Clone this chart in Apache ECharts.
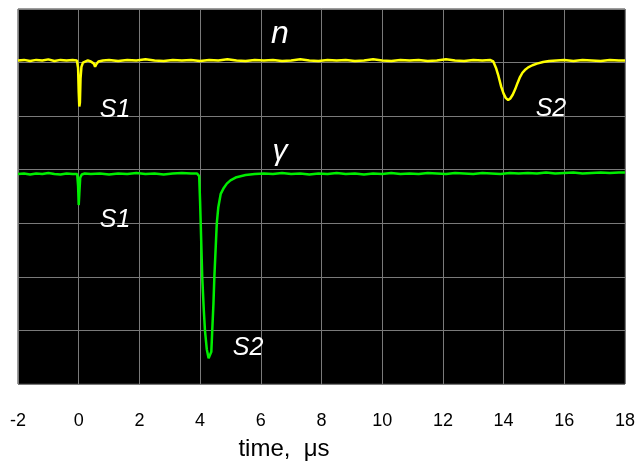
<!DOCTYPE html>
<html>
<head>
<meta charset="utf-8">
<script src="https://cdn.jsdelivr.net/npm/echarts@6/dist/echarts.min.js"></script>
<style>html,body{margin:0;padding:0;background:#fff;}#c{width:639px;height:466px;}</style>
</head>
<body>
<div id="c"></div>
<script>
// x ticks (time, µs)
const xTicks = [-2, 0, 2, 4, 6, 8, 10, 12, 14, 16, 18];

// neutron trace (n) : [time µs, level in divisions]
const nTrace = [
  [-2.0,6.04],[-1.8,6.05],[-1.6,6.03],[-1.4,6.05],[-1.2,6.04],[-1.0,6.06],[-0.8,6.03],[-0.6,6.05],[-0.4,6.04],[-0.2,6.05],[-0.06,6.04],
  [-0.02,5.9],[0.0,5.45],[0.02,5.18],[0.04,5.25],[0.06,5.7],[0.09,5.92],[0.14,6.0],[0.2,6.03],[0.3,6.04],[0.4,6.02],
  [0.5,5.98],[0.54,5.92],[0.58,5.97],[0.65,6.02],[0.8,6.04],[1.0,6.05],[1.3,6.03],[1.6,6.05],[1.9,6.04],[2.2,6.06],
  [2.5,6.04],[2.8,6.03],[3.1,6.05],[3.4,6.04],[3.7,6.05],[4.0,6.03],[4.3,6.05],[4.6,6.04],[4.9,6.06],[5.2,6.04],
  [5.5,6.03],[5.8,6.05],[6.1,6.04],[6.4,6.05],[6.7,6.03],[7.0,6.04],[7.3,6.06],[7.6,6.04],[7.9,6.03],[8.2,6.05],
  [8.5,6.04],[8.8,6.05],[9.1,6.03],[9.4,6.04],[9.7,6.06],[10.0,6.04],[10.3,6.03],[10.6,6.05],[10.9,6.04],[11.2,6.05],
  [11.5,6.03],[11.8,6.04],[12.1,6.06],[12.4,6.04],[12.7,6.03],[13.0,6.05],[13.3,6.04],[13.55,6.05],[13.66,6.02],
  [13.75,5.9],[13.83,5.75],[13.92,5.55],[14.0,5.42],[14.07,5.34],[14.15,5.30],[14.22,5.33],[14.3,5.40],[14.38,5.50],
  [14.46,5.62],[14.54,5.73],[14.62,5.81],[14.7,5.86],[14.81,5.91],[14.95,5.95],[15.1,5.98],[15.3,6.01],[15.5,6.03],
  [15.75,6.04],[16.0,6.05],[16.3,6.03],[16.6,6.05],[16.9,6.04],[17.2,6.03],[17.5,6.05],[17.8,6.04],[18.0,6.04]
];

// gamma trace (γ)
const gTrace = [
  [-2.0,3.92],[-1.8,3.93],[-1.6,3.91],[-1.4,3.93],[-1.2,3.92],[-1.0,3.94],[-0.8,3.92],[-0.6,3.91],[-0.4,3.93],[-0.2,3.92],[-0.05,3.92],
  [-0.02,3.7],[0.0,3.34],[0.02,3.55],[0.05,3.85],[0.1,3.91],[0.2,3.93],[0.4,3.92],[0.7,3.93],[1.0,3.91],[1.3,3.93],
  [1.6,3.92],[1.9,3.94],[2.2,3.92],[2.5,3.93],[2.8,3.91],[3.1,3.93],[3.4,3.94],[3.7,3.93],[3.9,3.93],[3.97,3.88],
  [4.0,3.4],[4.02,3.0],[4.07,2.0],[4.12,1.4],[4.16,1.0],[4.22,0.65],[4.28,0.48],[4.33,0.45],[4.37,0.6],[4.40,1.0],
  [4.44,1.5],[4.47,2.0],[4.51,2.5],[4.55,3.0],[4.6,3.3],[4.68,3.55],[4.78,3.66],[4.88,3.74],[5.0,3.8],[5.2,3.86],
  [5.5,3.9],[5.8,3.92],[6.1,3.93],[6.4,3.92],[6.7,3.94],[7.0,3.92],[7.3,3.93],[7.6,3.91],[7.9,3.93],[8.2,3.92],
  [8.5,3.94],[8.8,3.92],[9.1,3.93],[9.4,3.91],[9.7,3.93],[10.0,3.92],[10.3,3.94],[10.6,3.92],[10.9,3.93],[11.2,3.92],
  [11.5,3.94],[11.8,3.93],[12.1,3.92],[12.4,3.94],[12.7,3.93],[13.0,3.92],[13.3,3.94],[13.6,3.93],[13.9,3.92],[14.2,3.94],
  [14.5,3.93],[14.8,3.94],[15.1,3.93],[15.4,3.95],[15.7,3.93],[16.0,3.94],[16.3,3.95],[16.6,3.93],[16.9,3.94],[17.2,3.95],
  [17.5,3.94],[17.8,3.95],[18.0,3.95]
];

// annotation labels: [time, level, text, fontSize]
const notes = [
  [6.63, 6.53, 'n', 32],
  [6.63, 4.33, 'γ', 30],
  [1.20, 5.11, 'S1', 25],
  [1.20, 3.06, 'S1', 25],
  [15.56, 5.13, 'S2', 25],
  [5.58, 0.67, 'S2', 25]
];

const chart = echarts.init(document.getElementById('c'));
const FONT = '"Liberation Sans", Arial, sans-serif';
chart.setOption({
  animation: false,
  backgroundColor: '#ffffff',
  grid: {left: 18, right: 14, top: 9, bottom: 82, show: true, backgroundColor: '#000000', borderColor: '#3a3a3a', borderWidth: 1},
  xAxis: {
    type: 'value', min: xTicks[0], max: xTicks[xTicks.length - 1], interval: 2,
    axisLine: {show: false}, axisTick: {show: false},
    axisLabel: {color: '#000', fontSize: 18, fontFamily: FONT, margin: 28, showMinLabel: true, showMaxLabel: true},
    splitLine: {show: true, lineStyle: {color: '#7a7a7a', width: 1}},
    name: 'time,  μs', nameLocation: 'middle', nameGap: 53,
    nameTextStyle: {color: '#000', fontSize: 24, fontFamily: FONT, padding: [0, 75, 0, 0]}
  },
  yAxis: {
    type: 'value', min: 0, max: 7, interval: 1,
    axisLine: {show: false}, axisTick: {show: false}, axisLabel: {show: false},
    splitLine: {show: true, lineStyle: {color: '#7a7a7a', width: 1}}
  },
  series: [
    {type: 'line', data: nTrace, showSymbol: false, lineStyle: {color: '#ffff00', width: 2.5}, itemStyle: {color: '#ffff00'}},
    {type: 'line', data: gTrace, showSymbol: false, lineStyle: {color: '#00ee00', width: 2.5}, itemStyle: {color: '#00ee00'}},
    {type: 'scatter', symbolSize: 0, silent: true, itemStyle: {opacity: 1, color: '#ffffff'},
     data: notes.map(a => ({value: [a[0], a[1]], name: a[2],
       label: {show: true, position: 'inside', formatter: a[2], color: '#ffffff', opacity: 1, textBorderWidth: 0, textBorderColor: 'transparent',
               fontStyle: 'italic', fontSize: a[3], fontFamily: FONT}}))}
  ]
});
</script>
</body>
</html>
